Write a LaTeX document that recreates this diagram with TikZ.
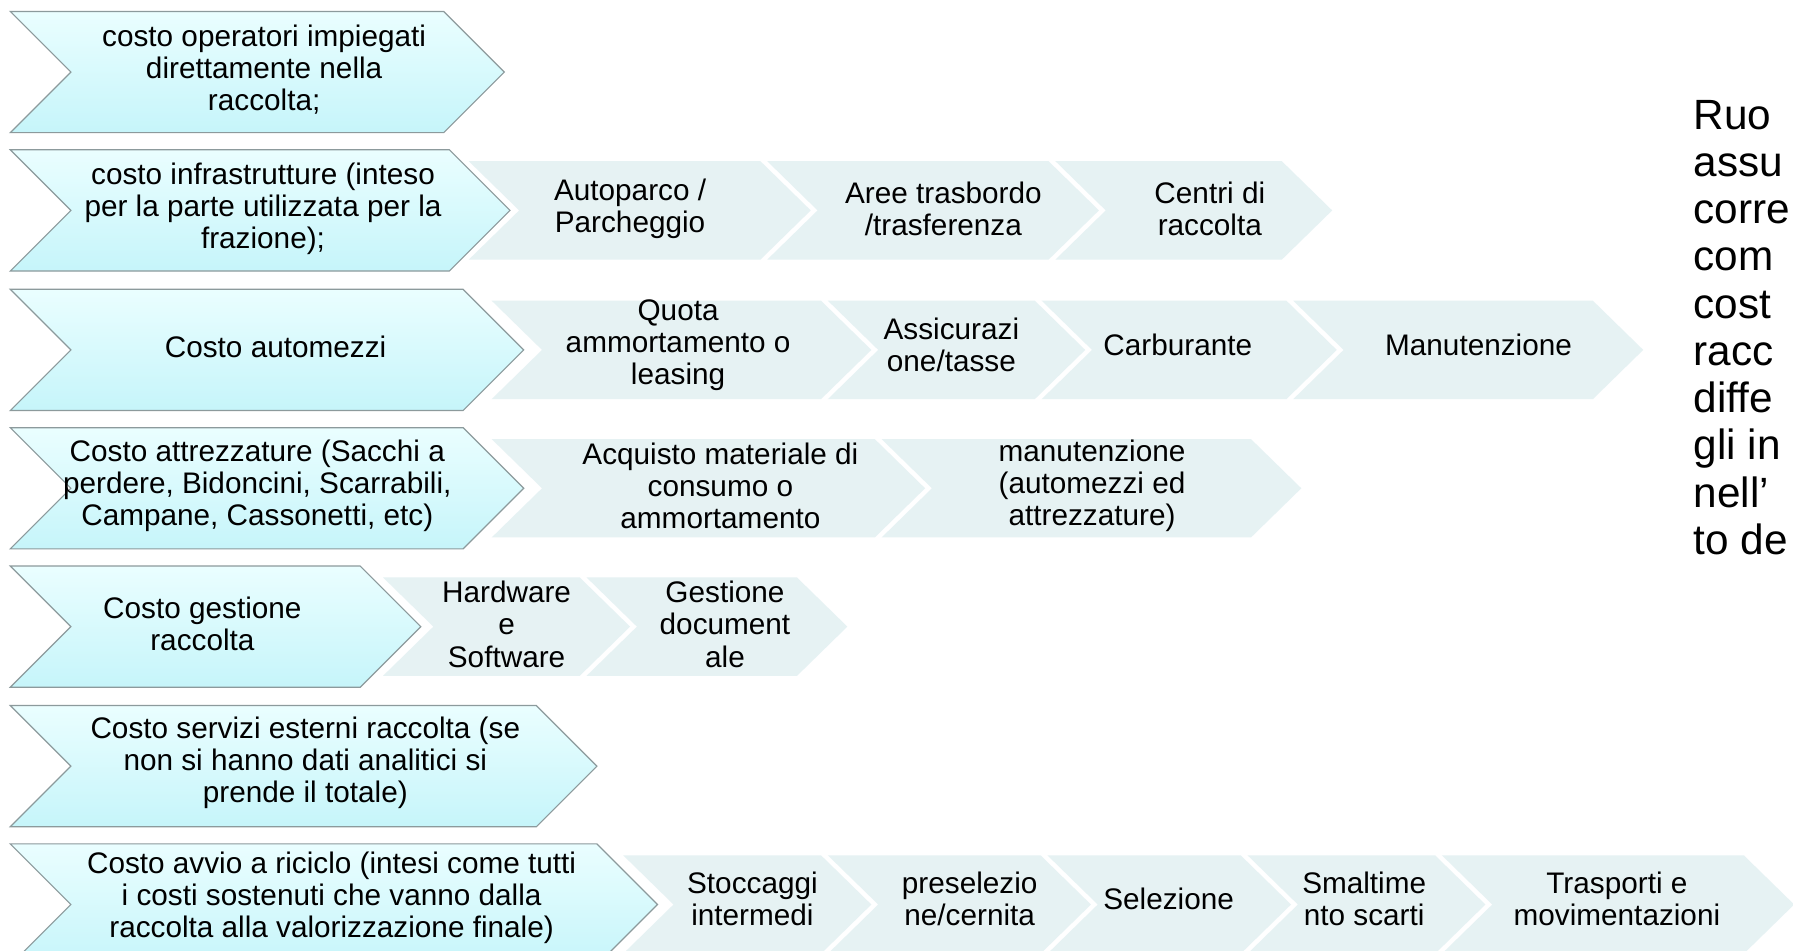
\documentclass[tikz,border=0pt]{standalone}
\usepackage{fontspec}
\setmainfont{Liberation Sans}
\definecolor{mainfillT}{HTML}{EAFEFF}
\definecolor{mainfillB}{HTML}{C6F5FA}
\definecolor{mainline}{HTML}{8C9A9C}
\definecolor{subfill}{HTML}{E6F2F3}
\tikzset{
  mainshape/.style={draw=mainline,line width=1pt,top color=mainfillT,bottom color=mainfillB,line join=miter},
  subshape/.style={fill=subfill,draw=none},
  chevtext/.style={align=center,inner sep=0pt,font=\fontsize{26}{28}\selectfont},
  bigtext/.style={align=left,inner sep=0pt,anchor=base west,font=\fontsize{37}{41.3}\selectfont}
}
% #1 name, #2 top y, #3 corner x, #4 text x, #5 text y, #6 text
\newcommand\mainchev[6]{%
  \path[mainshape] (9,#2) -- (#3,#2) -- ({#3+53},{#2+53}) -- (#3,{#2+106}) -- (9,{#2+106}) -- (62,{#2+53}) -- cycle;
  \node[chevtext] (#1) at (#4,#5) {#6};}
% #1 name, #2 row top y, #3 left x, #4 corner x, #5 text x, #6 text y, #7 text
\newcommand\subchev[7]{%
  \path[subshape] (#3,{#2+10}) -- (#4,{#2+10}) -- ({#4+44},{#2+53}) -- (#4,{#2+96}) -- (#3,{#2+96}) -- ({#3+44},{#2+53}) -- cycle;
  \node[chevtext] (#1) at (#5,#6) {#7};}
\begin{document}
\begin{tikzpicture}[x=1pt,y=-1pt]
\useasboundingbox (0,0) rectangle (1568,831);
\clip (0,0) rectangle (1568,831);
\fill[white] (0,0) rectangle (1568,831);
% row 2 subs
\subchev{a1}{131}{410}{665}{551}{183}{Autoparco /\\Parcheggio}
\subchev{a2}{131}{671}{917}{825}{183}{Aree trasbordo\\/trasferenza}
\subchev{a3}{131}{923}{1121}{1058}{183}{Centri di\\raccolta}
% row 3 subs
\subchev{b1}{253}{430}{718}{593}{302}{Quota\\ammortamento o\\leasing}
\subchev{b2}{253}{724}{905}{832}{302}{Assicurazi\\one/tasse}
\subchev{b3}{253}{911}{1125}{1030}{302}{Carburante}
\subchev{b4}{253}{1131}{1393}{1293}{302}{Manutenzione}
% row 4 subs
\subchev{c1}{374}{430}{765}{630}{425}{Acquisto materiale di\\consumo o\\ammortamento}
\subchev{c2}{374}{771}{1094}{955}{425}{manutenzione\\(automezzi ed\\attrezzature)}
% row 5 subs
\subchev{d1}{495}{335}{507}{443}{546}{Hardware\\e\\Software}
\subchev{d2}{495}{513}{697}{634}{546}{Gestione\\document\\ale}
% row 7 subs
\subchev{e1}{738}{545}{718}{658}{786}{Stoccaggi\\intermedi}
\subchev{e2}{738}{724}{910}{848}{786}{preselezio\\ne/cernita}
\subchev{e3}{738}{916}{1085}{1022}{786}{Selezione}
\subchev{e4}{738}{1091}{1255}{1193}{786}{Smaltime\\nto scarti}
\subchev{e5}{738}{1261}{1525}{1414}{786}{Trasporti e\\movimentazioni}
% main chevrons
\mainchev{m1}{10}{388}{231}{61}{costo operatori impiegati\\direttamente nella\\raccolta;}
\mainchev{m2}{131}{393}{230}{183}{costo infrastrutture (inteso\\per la parte utilizzata per la\\frazione);}
\mainchev{m3}{253}{405}{241}{303}{Costo automezzi}
\mainchev{m4}{374}{405}{225}{425}{Costo attrezzature (Sacchi a\\perdere, Bidoncini, Scarrabili,\\Campane, Cassonetti, etc)}
\mainchev{m5}{495}{315}{177}{546}{Costo gestione\\raccolta}
\mainchev{m6}{617}{469}{267}{667}{Costo servizi esterni raccolta (se\\non si hanno dati analitici si\\prende il totale)}
\mainchev{m7}{738}{522}{290}{785}{Costo avvio a riciclo (intesi come tutti\\i costi sostenuti che vanno dalla\\raccolta alla valorizzazione finale)}
% right text (cut by the picture edge)
\node[bigtext] (side) at (1481,484.7) {Ruo\\assu\\corre\\com\\cost\\racc\\diffe\\gli in\\nell’\\to de};
\end{tikzpicture}
\end{document}
